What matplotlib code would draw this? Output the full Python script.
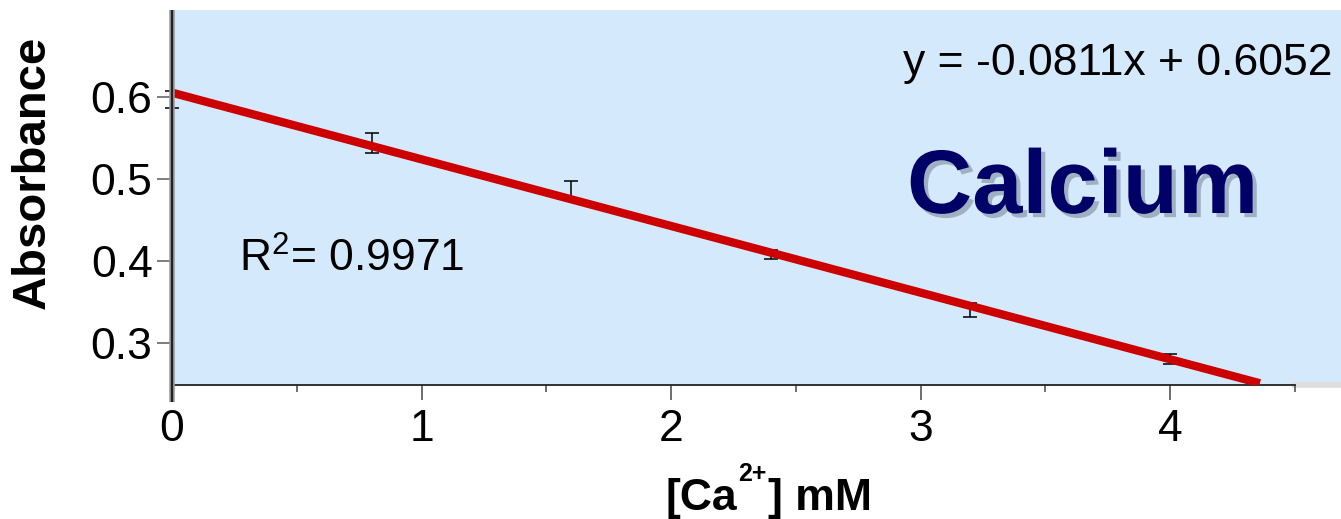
import matplotlib
matplotlib.use("Agg")
import matplotlib.pyplot as plt
import matplotlib.patheffects as pe
import numpy as np

# ---- data ----
conc = [0.0, 0.8, 1.6, 2.4, 3.2, 4.0]
absorb = [0.597, 0.544, 0.486, 0.408, 0.341, 0.281]
err = [0.010, 0.012, 0.012, 0.0057, 0.0085, 0.0057]
slope = -0.0811
intercept = 0.6052
fit_x = [0.0, 4.36]
x_ticks = [0, 1, 2, 3, 4]
y_ticks = [0.3, 0.4, 0.5, 0.6]
y_ticklabels = ["0.3", "0.4", "0.5", "0.6"]
eq_text = "y = -0.0811x + 0.6052"
r2_text = "R$^2$= 0.9971"
title_text = "Calcium"

plt.rcParams['font.family'] = ['Liberation Sans', 'DejaVu Sans']
plt.rcParams['mathtext.fontset'] = 'custom'
plt.rcParams['mathtext.rm'] = 'Liberation Sans'
plt.rcParams['mathtext.bf'] = 'Liberation Sans:bold'

W, H = 1341, 519
fig = plt.figure(figsize=(W / 100, H / 100), dpi=100)
ax = fig.add_axes([172 / W, 1 - 385 / H, 1 - 172 / W, (385 - 10) / H])
ax.set_facecolor('#D5E9FD')
ax.set_xlim(0, 4.685)
ax.set_ylim(0.2495, 0.7058)

fx = np.array(fit_x)
ax.plot(fx, slope * fx + intercept, color='#CC0000', lw=6, solid_capstyle='butt', zorder=3)
ax.errorbar(conc, absorb, yerr=err, fmt='none', ecolor='black', elinewidth=1.1,
            capsize=5, capthick=1.1, zorder=2, clip_on=False)

for s in ['top', 'right']:
    ax.spines[s].set_visible(False)
ax.spines['bottom'].set_bounds(0, 4.5)
ax.spines['bottom'].set_color('#222222')
ax.spines['bottom'].set_linewidth(1.3)
ax.spines['left'].set_visible(False)
ax.plot([0, 0], [-0.045, 1.0], transform=ax.transAxes, color='#999999', lw=4.0,
        clip_on=False, zorder=4, solid_capstyle='butt')
ax.plot([0, 0], [-0.045, 1.0], transform=ax.transAxes, color='#222222', lw=1.6,
        clip_on=False, zorder=5, solid_capstyle='butt')
ax.plot([4.5, 4.685], [0.2495, 0.2495], color='#DDDDDD', lw=4, clip_on=False, zorder=1)

ax.set_xticks(x_ticks)
ax.set_xticklabels([str(t) for t in x_ticks])
ax.set_xticks(np.arange(0.5, 4.6, 1.0), minor=True)
ax.set_yticks(y_ticks)
ax.set_yticklabels(y_ticklabels)
ax.tick_params(axis='x', which='major', length=11, width=1.2, color='#555555',
               labelsize=32, pad=6, direction='out')
ax.tick_params(axis='x', which='minor', length=5, width=1.2, color='#555555', direction='out')
ax.tick_params(axis='y', which='major', length=11, width=1.2, color='#666666',
               labelsize=32, pad=3, direction='out')

fig.text(903 / W, 1 - 75 / H, eq_text, fontsize=32, ha='left', va='baseline', color='black')
fig.text(239 / W, 1 - 272 / H, r2_text, fontsize=32, ha='left', va='baseline', color='black')
fig.text(907 / W, 1 - 213 / H, title_text, fontsize=65, fontweight='bold', color='#000066',
         ha='left', va='baseline',
         path_effects=[pe.withSimplePatchShadow(offset=(3, -3), shadow_rgbFace='#7A8A9A', alpha=0.6)])

# x label assembled from pieces: "[Ca" + superscript "2+" + "] mM"
renderer = fig.canvas.get_renderer()
base_y = 1 - 510 / H
t1 = fig.text(666 / W, base_y, "[Ca", fontsize=32, fontweight='bold', ha='left', va='baseline')
e1 = t1.get_window_extent(renderer)
t2 = fig.text((e1.x1 + 1) / W, 1 - 481 / H, "2+", fontsize=18, fontweight='bold',
              ha='left', va='baseline')
e2 = t2.get_window_extent(renderer)
fig.text((e2.x1 + 1) / W, base_y, "] mM", fontsize=32, fontweight='bold', ha='left', va='baseline')

fig.text(33 / W, 1 - 172 / H, "Absorbance", fontsize=34, fontweight='bold', rotation=90,
         ha='center', va='center')

fig.savefig('out.png', dpi=100)
